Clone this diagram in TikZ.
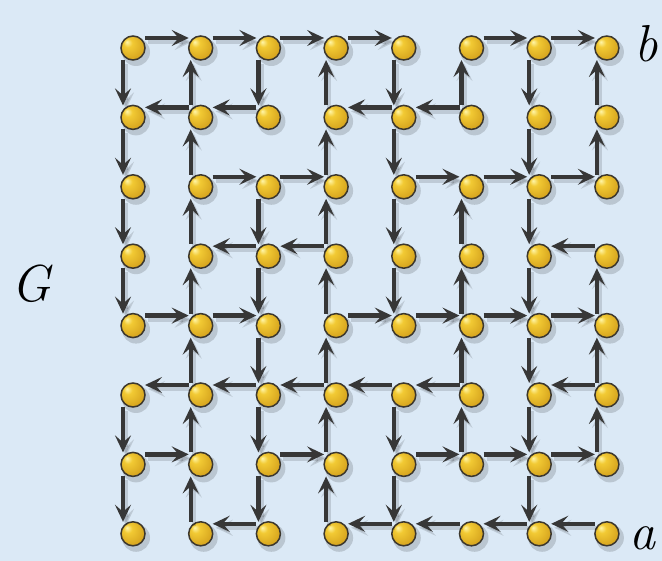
\documentclass[tikz,border=0pt]{standalone}
\usetikzlibrary{arrows.meta}
\definecolor{bgblue}{RGB}{219,233,246}
\definecolor{edgegray}{RGB}{55,55,55}
\definecolor{hilite}{RGB}{255,246,170}
\definecolor{gold}{RGB}{242,202,52}
\definecolor{goldmid}{RGB}{214,164,30}
\definecolor{golddark}{RGB}{150,105,18}
\definecolor{rim}{RGB}{60,55,45}
\pgfdeclareradialshading{goldball}{\pgfpoint{-13bp}{13bp}}{color(0bp)=(hilite); color(9bp)=(gold); color(30bp)=(goldmid); color(44bp)=(golddark); color(50bp)=(golddark)}
\tikzset{
  ball/.style={circle, minimum size=24pt, inner sep=0pt, shading=goldball, draw=rim, line width=1.5pt},
  edge/.style={draw=edgegray, line width=4.4pt, -{Stealth[length=17pt,width=16pt,inset=7pt]}, shorten <=12pt, shorten >=12pt},
  eshadow/.style={edge, draw=black, opacity=0.13},
  lab/.style={inner sep=0pt, font=\fontsize{52}{58}\selectfont\itshape},
}
\def\es{edge}\def\dx{0pt}\def\dy{0pt}
\newcommand\vedge[2]{\draw[\es] ([xshift={-10pt+\dx},yshift=\dy]n-#1.center) -- ([xshift={-10pt+\dx},yshift=\dy]n-#2.center);}
\newcommand\hedge[2]{\draw[\es] ([xshift=\dx,yshift={10pt+\dy}]n-#1.center) -- ([xshift=\dx,yshift={10pt+\dy}]n-#2.center);}
\newcommand\edgelist{%
\hedge{1-1}{2-1}\hedge{2-1}{3-1}\hedge{3-1}{4-1}\hedge{4-1}{5-1}\hedge{6-1}{7-1}\hedge{7-1}{8-1}
\hedge{2-2}{1-2}\hedge{3-2}{2-2}\hedge{5-2}{4-2}\hedge{6-2}{5-2}
\hedge{2-3}{3-3}\hedge{3-3}{4-3}\hedge{5-3}{6-3}\hedge{6-3}{7-3}\hedge{7-3}{8-3}
\hedge{3-4}{2-4}\hedge{4-4}{3-4}\hedge{8-4}{7-4}
\hedge{1-5}{2-5}\hedge{2-5}{3-5}\hedge{4-5}{5-5}\hedge{5-5}{6-5}\hedge{6-5}{7-5}\hedge{7-5}{8-5}
\hedge{2-6}{1-6}\hedge{3-6}{2-6}\hedge{4-6}{3-6}\hedge{5-6}{4-6}\hedge{6-6}{5-6}\hedge{8-6}{7-6}
\hedge{1-7}{2-7}\hedge{3-7}{4-7}\hedge{5-7}{6-7}\hedge{6-7}{7-7}\hedge{7-7}{8-7}
\hedge{3-8}{2-8}\hedge{5-8}{4-8}\hedge{6-8}{5-8}\hedge{7-8}{6-8}\hedge{8-8}{7-8}
\vedge{1-1}{1-2}\vedge{2-2}{2-1}\vedge{3-1}{3-2}\vedge{4-2}{4-1}\vedge{5-1}{5-2}\vedge{6-2}{6-1}\vedge{7-1}{7-2}\vedge{8-2}{8-1}
\vedge{1-2}{1-3}\vedge{2-3}{2-2}\vedge{4-3}{4-2}\vedge{5-2}{5-3}\vedge{7-2}{7-3}\vedge{8-3}{8-2}
\vedge{1-3}{1-4}\vedge{2-4}{2-3}\vedge{3-3}{3-4}\vedge{4-4}{4-3}\vedge{5-3}{5-4}\vedge{6-4}{6-3}\vedge{7-3}{7-4}
\vedge{1-4}{1-5}\vedge{2-5}{2-4}\vedge{3-4}{3-5}\vedge{4-5}{4-4}\vedge{5-4}{5-5}\vedge{6-5}{6-4}\vedge{7-4}{7-5}\vedge{8-5}{8-4}
\vedge{2-6}{2-5}\vedge{3-5}{3-6}\vedge{4-6}{4-5}\vedge{6-6}{6-5}\vedge{7-5}{7-6}\vedge{8-6}{8-5}
\vedge{1-6}{1-7}\vedge{2-7}{2-6}\vedge{3-6}{3-7}\vedge{4-7}{4-6}\vedge{5-6}{5-7}\vedge{6-7}{6-6}\vedge{7-6}{7-7}\vedge{8-7}{8-6}
\vedge{1-7}{1-8}\vedge{2-8}{2-7}\vedge{3-7}{3-8}\vedge{4-8}{4-7}\vedge{5-7}{5-8}\vedge{7-7}{7-8}}
\begin{document}
\begin{tikzpicture}[x=1pt,y=-1pt]
\fill[bgblue] (0,0) rectangle (662,561);
\useasboundingbox (0,0) rectangle (662,561);
% ball shadows
\foreach \c in {1,...,8}{\foreach \r in {1,...,8}{
  \fill[black,opacity=0.15] ({133+67.7*(\c-1)+3},{48+69.4*(\r-1)+4}) circle (14pt);
}}
% balls
\foreach \c in {1,...,8}{\foreach \r in {1,...,8}{
  \node[ball] (n-\c-\r) at ({133+67.7*(\c-1)},{48+69.4*(\r-1)}) {};
}}
% edge shadows, then edges
\begingroup\def\es{eshadow}\def\dx{3pt}\def\dy{-4pt}\edgelist\endgroup
\edgelist
% labels
\node[lab, anchor=base west] (lb) at (634,62) {b};
\node[lab, anchor=base west] (la) at (629,549) {a};
\node[lab] (lG) at (31,284) {G};
\end{tikzpicture}
\end{document}
